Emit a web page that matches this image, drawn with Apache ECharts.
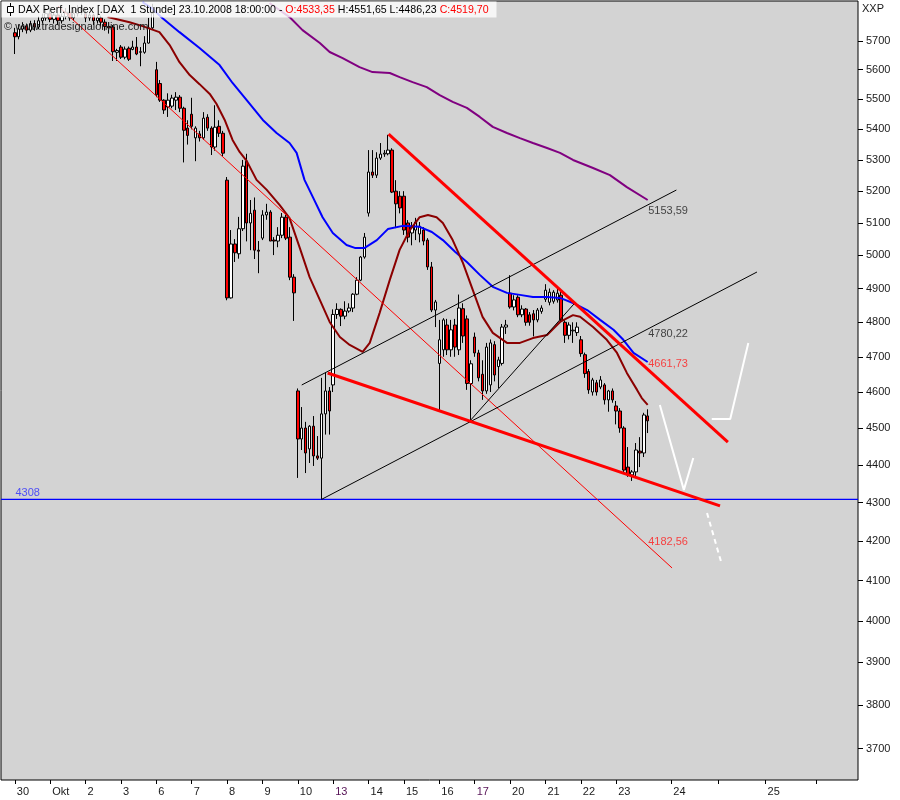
<!DOCTYPE html>
<html><head><meta charset="utf-8">
<script src="https://cdn.jsdelivr.net/npm/echarts@6/dist/echarts.min.js"></script>
<style>html,body{margin:0;padding:0;background:#fff;}#c{width:900px;height:800px;}</style>
</head><body><div id="c"></div>
<script>
// ---------- axis data ----------
const slotCount = 218;                 // hourly slots incl. future space
const firstBarIndex = 3;               // first candle slot (30 Sep, 10:00)
const tickIndex  = [3,12,21,30,39,48,57,66,75,84,93,102,111,120,129,138,147,156,170,182,194,207];
const tickLabels = ['30','Okt','2','3','6','7','8','9','10','13','14','15','16','17','20','21','22','23','24','','25',''];
const purpleTickLabels = ['13','17'];
const yTicks = [3700,3800,3900,4000,4100,4200,4300,4400,4500,4600,4700,4800,4900,5000,5100,5200,5300,5400,5500,5600,5700];

// ---------- hourly candles [open, high, low, close] ----------
const sep30 = [[5728,5745,5654,5714],[5714,5757,5705,5741],[5741,5765,5730,5752],[5752,5760,5725,5737],[5737,5770,5730,5760],[5760,5772,5735,5748],[5748,5785,5740,5770],[5770,5795,5760,5780],[5780,5815,5770,5795]];
const oct01 = [[5795,5815,5765,5775],[5775,5800,5760,5790],[5790,5798,5755,5770],[5770,5795,5760,5785],[5785,5815,5775,5800],[5800,5812,5770,5780],[5780,5810,5770,5795],[5795,5825,5785,5812],[5812,5830,5790,5805]];
const oct02 = [[5795,5810,5765,5780],[5780,5800,5770,5790],[5790,5795,5755,5770],[5770,5790,5760,5780],[5780,5788,5750,5765],[5765,5775,5735,5750],[5750,5765,5725,5745],[5748,5755,5630,5662],[5660,5672,5630,5666]];
const oct03 = [[5678,5685,5637,5643],[5643,5680,5636,5671],[5674,5680,5630,5636],[5670,5700,5667,5678],[5678,5713,5650,5654],[5660,5678,5612,5662],[5660,5716,5655,5692],[5692,5780,5690,5745],[5745,5830,5740,5797]];
const oct06 = [[5600,5627,5507,5515],[5553,5565,5491,5497],[5497,5500,5451,5464],[5474,5520,5441,5497],[5477,5515,5470,5504],[5497,5524,5464,5507],[5507,5514,5457,5470],[5470,5475,5292,5397],[5404,5430,5350,5380]];
const oct07 = [[5450,5505,5400,5410],[5372,5410,5296,5404],[5385,5395,5360,5372],[5372,5457,5365,5437],[5440,5450,5395,5404],[5404,5410,5316,5342],[5342,5480,5330,5407],[5410,5430,5375,5387],[5387,5395,5312,5322]];
const oct08 = [[5235,5245,4865,4872],[4872,5078,4870,5035],[5035,5050,4980,5008],[5005,5119,4990,5082],[5082,5300,5075,5280],[5296,5320,5043,5100],[5100,5172,5016,5130],[5140,5180,4989,5016],[5016,5044,4946,5013]];
const oct09 = [[5053,5140,5047,5125],[5125,5160,5110,5134],[5134,5140,5044,5044],[5047,5056,5001,5044],[5044,5087,5025,5062],[5062,5131,5053,5118],[5118,5125,5047,5053],[5056,5087,4925,4934],[4934,4943,4804,4887]];
const oct10 = [[4603,4610,4365,4470],[4470,4558,4440,4500],[4500,4517,4378,4432],[4443,4508,4405,4505],[4505,4533,4397,4424],[4424,4478,4413,4418],[4418,4640,4308,4539],[4539,4655,4482,4603],[4603,4614,4482,4547]];
const oct13 = [[4620,4838,4600,4823],[4823,4856,4810,4838],[4838,4841,4789,4818],[4818,4862,4809,4833],[4833,4856,4828,4842],[4842,4886,4830,4883],[4883,4934,4880,4925],[4925,4998,4922,4995],[4995,5069,4990,5056]];
const oct14 = [[5131,5332,5120,5261],[5261,5332,5242,5251],[5251,5325,5242,5306],[5306,5355,5300,5319],[5319,5332,5310,5322],[5320,5382,5315,5332],[5332,5338,5194,5197],[5200,5235,5084,5160],[5184,5200,5130,5147]];
const oct15 = [[5184,5200,5063,5078],[5100,5109,5040,5056],[5069,5103,5031,5087],[5078,5116,5047,5103],[5066,5103,5040,5090],[5078,5087,5031,5044],[5047,5053,4956,4965],[4965,4980,4830,4836],[4836,4866,4786,4860]];
const oct16 = [[4681,4807,4550,4749],[4720,4812,4700,4807],[4792,4810,4705,4720],[4720,4807,4700,4778],[4792,4810,4700,4728],[4720,4882,4705,4842],[4840,4856,4740,4760],[4810,4820,4606,4624],[4624,4690,4515,4680]];
const oct17 = [[4757,4770,4700,4711],[4711,4720,4630,4640],[4650,4690,4578,4603],[4603,4740,4595,4728],[4620,4750,4600,4740],[4735,4745,4630,4648],[4672,4700,4611,4691],[4681,4795,4675,4786],[4786,4807,4766,4792]];
const oct20 = [[4886,4940,4840,4845],[4845,4880,4835,4866],[4874,4880,4815,4822],[4822,4850,4815,4839],[4839,4842,4790,4800],[4822,4830,4790,4800],[4825,4836,4759,4807],[4807,4842,4800,4836],[4832,4850,4825,4842]];
const oct21 = [[4868,4913,4860,4895],[4859,4900,4850,4889],[4862,4895,4855,4889],[4866,4900,4858,4886],[4880,4890,4800,4807],[4800,4806,4740,4762],[4762,4800,4750,4792],[4775,4800,4740,4777],[4770,4800,4760,4786]];
const oct22 = [[4749,4760,4700,4709],[4706,4712,4640,4652],[4658,4665,4595,4606],[4600,4640,4590,4634],[4626,4634,4590,4600],[4614,4645,4608,4634],[4620,4625,4565,4578],[4578,4606,4545,4603],[4603,4610,4570,4578]];
const oct23 = [[4561,4575,4510,4547],[4547,4555,4487,4500],[4500,4505,4378,4386],[4394,4448,4368,4373],[4373,4386,4357,4381],[4381,4459,4365,4440],[4437,4475,4394,4432],[4432,4542,4421,4536],[4533.35,4551.65,4486.23,4519.70]];
const days = [sep30,oct01,oct02,oct03,oct06,oct07,oct08,oct09,oct10,oct13,oct14,oct15,oct16,oct17,oct20,oct21,oct22,oct23];

// ---------- moving averages [slot, price] ----------
const brownMA = [[26.6,5783],[32.2,5765],[35.5,5751],[39.8,5730],[42.4,5685],[44.9,5626],[47.5,5582],[50.0,5551],[52.6,5518],[54.3,5485],[56.4,5431],[58.4,5365],[60.2,5326],[62.0,5297],[64.5,5236],[67.1,5204],[70.4,5156],[72.9,5115],[75.5,5023],[78.0,4934],[80.6,4866],[83.1,4801],[85.7,4757],[88.2,4734],[91.5,4714],[93.3,4740],[95.8,4827],[98.4,4926],[100.9,5017],[103.5,5078],[106.0,5118],[108.1,5125],[110.3,5118],[111.9,5100],[114.4,5047],[117.0,4977],[119.5,4896],[122.0,4816],[124.6,4769],[128.2,4740],[131.5,4740],[134.8,4754],[138.4,4763],[141.7,4801],[145.0,4821],[146.8,4816],[150.1,4786],[153.6,4749],[156.2,4711],[158.7,4654],[161.3,4606],[162.5,4583],[164.0,4564]];
const blueMA = [[35.5,5836],[37.8,5815],[40.6,5779],[44.9,5730],[50.0,5675],[55.1,5616],[58.4,5555],[62.0,5497],[66.1,5431],[69.6,5388],[72.9,5355],[74.7,5323],[76.7,5236],[78.8,5182],[81.3,5118],[83.9,5069],[87.4,5032],[89.5,5023],[92.0,5023],[95.1,5047],[97.9,5081],[101.7,5091],[106.0,5088],[109.1,5072],[111.9,5047],[115.0,5011],[118.0,4980],[121.3,4941],[124.6,4905],[128.2,4887],[131.5,4881],[134.8,4875],[138.4,4875],[141.7,4872],[145.0,4857],[148.6,4836],[151.9,4807],[155.3,4778],[157.8,4749],[160.4,4711],[164.0,4685]];
const purpleMA = [[67.8,5833],[72.9,5783],[76.2,5737],[80.6,5692],[83.1,5661],[86.4,5640],[90.7,5609],[94.0,5592],[98.4,5589],[100.9,5575],[104.2,5558],[107.8,5541],[111.1,5514],[114.4,5491],[118.0,5471],[121.3,5441],[124.6,5408],[128.2,5388],[131.5,5371],[134.8,5355],[138.4,5339],[141.7,5323],[145.0,5300],[150.1,5274],[154.4,5251],[158.7,5213],[164.0,5172]];

// ---------- drawn trend lines [slot, price] ----------
const thinRedLine   = [[14.0,5822],[170.2,4131.6]];
const redUpperLine  = [[98.1,5384.5],[184.4,4461.7]];
const redLowerLine  = [[82.6,4653.8],[182.4,4291]];
const channelLower  = [[81,4308],[191.8,4949.6]];
const channelUpper  = [[76.0,4619.8],[171.3,5203.6]];
const shortBlack    = [[118.4,4514.7],[145.7,4859.9]];
const whitePath1    = [[167.1,4563.9],[173.2,4333.3],[175.6,4418.4]];
const whitePath2    = [[180.3,4524.8],[185.0,4524.8],[189.6,4739.7]];
const whiteDashed   = [[179.1,4272.5],[182.9,4139.1]];
const supportLevel  = 4308;

// ---------- value labels ----------
const valueLabels = [
  {slot:164, value:5153.59, color:'#1a1a1a', side:'below'},
  {slot:164, value:4780.22, color:'#1a1a1a', side:'below'},
  {slot:164, value:4661.73, color:'#ff1a1a', side:'above'},
  {slot:164, value:4182.56, color:'#ff1a1a', side:'above'}
];

// ---------- build ----------
const L = Math.log;
const FONT = '"Liberation Sans", Arial, sans-serif';
const candleData = [];
for (let i = 0; i < firstBarIndex; i++) candleData.push(['-','-','-','-']);
days.forEach(d => d.forEach(([o,h,l,c]) => candleData.push([L(o), L(c), L(l), L(h)])));
const cats = Array.from({length: slotCount}, (_, i) => String(i));
const tickMap = {};
tickIndex.forEach((t, k) => { tickMap[t] = tickLabels[k]; });
const fmt = v => v.toFixed(2).replace('.', ',');
const toPts = arr => arr.map(([i, p]) => [i, L(p)]);

function lineSeries(pts, color, width, dashed, z) {
  return {type:'line', xAxisIndex:1, yAxisIndex:0, data: toPts(pts), symbol:'none', showSymbol:false,
    silent:true, z: z || 3, animation:false, clip:true,
    lineStyle:{color: color, width: width, type: dashed ? [5,4] : 'solid', cap:'butt'}};
}

const lastBar = oct23[oct23.length - 1];
const headerText = 'DAX Perf. Index [.DAX  1 Stunde] 23.10.2008 18:00:00 - {r|O:' + fmt(lastBar[0]) + '} H:' +
  fmt(lastBar[1]) + ' L:' + fmt(lastBar[2]) + ' {r|C:' + fmt(lastBar[3]) + '}';

const labelItems = valueLabels.map(o => ({
  value:[o.slot, L(o.value)],
  label:{show:true, formatter: fmt(o.value), position:[1, 0], align:'left',
    verticalAlign: o.side === 'below' ? 'top' : 'bottom', color:o.color, fontSize:11, fontFamily:FONT}
}));
labelItems.push({
  value:[3.3, L(supportLevel)],
  label:{show:true, formatter: String(supportLevel), position:[0, 0], align:'left', verticalAlign:'bottom',
    color:'#2a2aff', fontSize:11, fontFamily:FONT}
});

const chart = echarts.init(document.getElementById('c'), null, {renderer:'canvas'});
chart.setOption({
  backgroundColor:'#ffffff',
  animation:false,
  grid:{left:1, top:1, right:42, bottom:20, show:true, backgroundColor:'#d3d3d3', borderColor:'#000', borderWidth:1, containLabel:false, outerBoundsMode:'none'},
  xAxis:[
    {type:'category', data:cats, boundaryGap:true,
     axisLine:{show:false, onZero:false},
     axisTick:{show:true, interval:(i) => (i in tickMap), alignWithLabel:true, length:4, lineStyle:{color:'#000', width:1}},
     axisLabel:{show:true, interval:(i) => (i in tickMap), align:'left', margin:6, padding:[0,0,0,2],
       color:'#1a1a1a', fontSize:11, fontFamily:FONT,
       formatter:(v) => { const t = tickMap[+v] || ''; return purpleTickLabels.indexOf(t) >= 0 ? '{p|' + t + '}' : t; },
       rich:{p:{color:'#551155', fontSize:11, fontFamily:FONT}}},
     splitLine:{show:false}},
    {type:'value', min:-0.5, max:slotCount - 0.5, show:false, axisLine:{onZero:false}}
  ],
  yAxis:{type:'value', position:'right', min:L(3630), max:L(5840),
    splitLine:{show:false}, axisLine:{show:false, onZero:false},
    axisTick:{show:true, length:5, customValues:yTicks.map(L), lineStyle:{color:'#000'}},
    axisLabel:{show:true, customValues:yTicks.map(L), margin:8, color:'#1a1a1a', fontSize:11, fontFamily:FONT,
      formatter:(v) => String(Math.round(Math.exp(v)))}},
  series:[
    {type:'candlestick', xAxisIndex:0, yAxisIndex:0, data:candleData, barWidth:3, silent:true, z:2, animation:false,
     itemStyle:{color:'#ffffff', color0:'#ff0000', borderColor:'#000000', borderColor0:'#000000', borderWidth:1}},
    lineSeries([[-0.5, supportLevel],[slotCount - 0.5, supportLevel]], '#0000ff', 1.2, false, 3),
    lineSeries(purpleMA, '#800080', 2, false, 4),
    lineSeries(blueMA, '#0000ff', 2, false, 4),
    lineSeries(brownMA, '#8b0000', 2, false, 4),
    lineSeries(thinRedLine, '#ff0000', 1, false, 5),
    lineSeries(channelLower, '#000000', 1, false, 5),
    lineSeries(channelUpper, '#000000', 1, false, 5),
    lineSeries(shortBlack, '#000000', 1, false, 5),
    lineSeries(redUpperLine, '#ff0000', 3, false, 6),
    lineSeries(redLowerLine, '#ff0000', 3, false, 6),
    lineSeries(whitePath1, '#ffffff', 2, false, 6),
    lineSeries(whitePath2, '#ffffff', 2, false, 6),
    lineSeries(whiteDashed, '#ffffff', 2, true, 6),
    {type:'scatter', xAxisIndex:1, yAxisIndex:0, symbolSize:1, silent:true, z:7, animation:false,
     itemStyle:{color:'rgba(0,0,0,0)'}, data:labelItems}
  ],
  graphic:[
    {type:'rect', z:100, shape:{x:1.5, y:1.5, width:495, height:16}, style:{fill:'rgba(255,255,255,0.8)'}},
    {type:'line', z:101, shape:{x1:10.5, y1:3, x2:10.5, y2:16}, style:{stroke:'#000', lineWidth:1}},
    {type:'rect', z:102, shape:{x:7.5, y:6.5, width:6, height:6}, style:{fill:'#fff', stroke:'#000', lineWidth:1}},
    {type:'text', z:101, x:18, y:10, style:{text:headerText, fontSize:10.6, fontFamily:FONT, fill:'#000', verticalAlign:'middle',
      rich:{r:{fill:'#ff0000', fontSize:10.6, fontFamily:FONT}}}},
    {type:'text', z:101, x:4, y:27, style:{text:'\u00a9 www.tradesignalonline.com', fontSize:11, fontFamily:FONT, fill:'#222222', verticalAlign:'middle'}},
    {type:'text', z:101, x:862, y:9, style:{text:'XXP', fontSize:11, fontFamily:FONT, fill:'#1a1a1a', verticalAlign:'middle'}}
  ]
});
</script>
</body></html>
